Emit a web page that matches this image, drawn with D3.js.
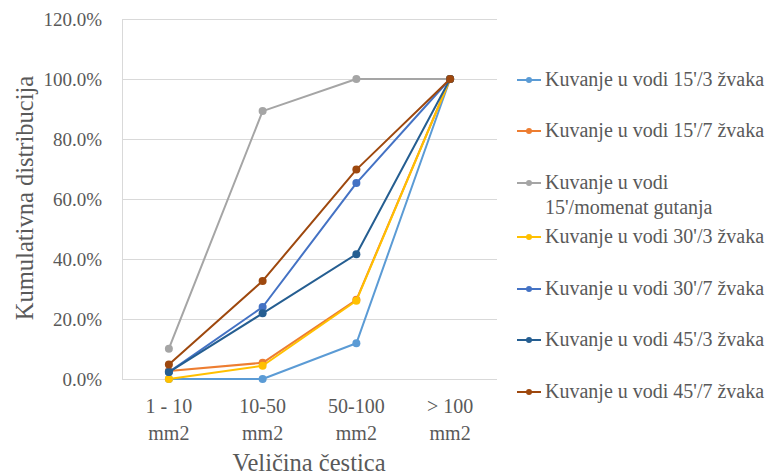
<!DOCTYPE html>
<html><head><meta charset="utf-8">
<script src="https://cdn.jsdelivr.net/npm/d3@7"></script>
<style>body{margin:0;background:#fff} text{font-family:"Liberation Serif","Times New Roman",serif}</style>
</head><body>
<svg id="c" width="772" height="476"></svg>
<script>
const categories = ["1 - 10|mm2", "10-50|mm2", "50-100|mm2", "> 100|mm2"];
const seriesNames = [
  "Kuvanje u vodi 15'/3 žvaka",
  "Kuvanje u vodi 15'/7 žvaka",
  "Kuvanje u vodi|15'/momenat gutanja",
  "Kuvanje u vodi 30'/3 žvaka",
  "Kuvanje u vodi 30'/7 žvaka",
  "Kuvanje u vodi 45'/3 žvaka",
  "Kuvanje u vodi 45'/7 žvaka"
];
const colors = ["#5B9BD5", "#ED7D31", "#A5A5A5", "#FFC000", "#4472C4", "#255E91", "#9E480E"];
const s1 = [0, 0, 11.9, 100];
const s2 = [2.7, 5.4, 26.4, 100];
const s3 = [10.1, 89.3, 100, 100];
const s4 = [0, 4.4, 26.1, 100];
const s5 = [2.3, 24.0, 65.3, 100];
const s6 = [2.3, 21.9, 41.6, 100];
const s7 = [4.8, 32.7, 69.8, 100];
const seriesValues = [s1, s2, s3, s4, s5, s6, s7];
const yTicks = [0, 20, 40, 60, 80, 100, 120];

const svg = d3.select("#c");
const txt = "#595959";
const L = 122, R = 497, T = 19, B = 379;

const x = d3.scaleBand().domain(categories).range([L, R]);
const y = d3.scaleLinear().domain([0, 120]).range([B, T]);

// gridlines
svg.append("g").selectAll("line").data(yTicks).join("line")
  .attr("x1", L).attr("x2", R)
  .attr("y1", d => Math.round(y(d)) + 0.5).attr("y2", d => Math.round(y(d)) + 0.5)
  .attr("stroke", "#D9D9D9").attr("stroke-width", 1);
svg.append("line").attr("x1", L + 0.5).attr("x2", L + 0.5).attr("y1", T).attr("y2", B)
  .attr("stroke", "#D9D9D9");

// y tick labels
svg.append("g").selectAll("text").data(yTicks).join("text")
  .attr("x", 102).attr("y", d => y(d) + 7)
  .attr("text-anchor", "end").attr("font-size", 19)
  .attr("fill", txt).text(d => d.toFixed(1) + "%");

// x tick labels
svg.append("g").selectAll("text").data(categories).join("text")
  .attr("text-anchor", "middle").attr("font-size", 20).attr("fill", txt)
  .each(function(d) {
    const t = d3.select(this);
    d.split("|").forEach((p, i) => {
      t.append("tspan").attr("x", x(d) + x.bandwidth() / 2).attr("y", 413 + i * 27).text(p);
    });
  });

// axis titles
svg.append("text").attr("x", 309).attr("y", 471).attr("text-anchor", "middle")
  .attr("font-size", 24.5).attr("fill", txt).text("Veličina čestica");
svg.append("text").attr("transform", "translate(33,198) rotate(-90)").attr("text-anchor", "middle")
  .attr("font-size", 24.5).attr("fill", txt).text("Kumulativna distribucija");

// lines
const line = d3.line().x((d, i) => x(categories[i]) + x.bandwidth() / 2).y(d => y(d));
seriesValues.forEach((vals, si) => {
  const g = svg.append("g");
  g.append("path").datum(vals).attr("d", line).attr("fill", "none")
    .attr("stroke", colors[si]).attr("stroke-width", 2).attr("stroke-linejoin", "round");
  g.selectAll("circle").data(vals).join("circle")
    .attr("cx", (d, i) => x(categories[i]) + x.bandwidth() / 2).attr("cy", d => y(d))
    .attr("r", 4).attr("fill", colors[si]);
});

// legend
const legY = [80, 131, 183, 237, 289, 340, 392];
seriesNames.forEach((name, si) => {
  const g = svg.append("g");
  const yy = legY[si];
  g.append("line").attr("x1", 517).attr("x2", 541).attr("y1", yy).attr("y2", yy)
    .attr("stroke", colors[si]).attr("stroke-width", 2);
  g.append("circle").attr("cx", 529).attr("cy", yy).attr("r", 3).attr("fill", colors[si]);
  const t = g.append("text").attr("font-size", 20).attr("fill", txt);
  name.split("|").forEach((p, i) => {
    t.append("tspan").attr("x", 545).attr("y", yy + 6 + i * 25).text(p);
  });
});
</script>
</body></html>
